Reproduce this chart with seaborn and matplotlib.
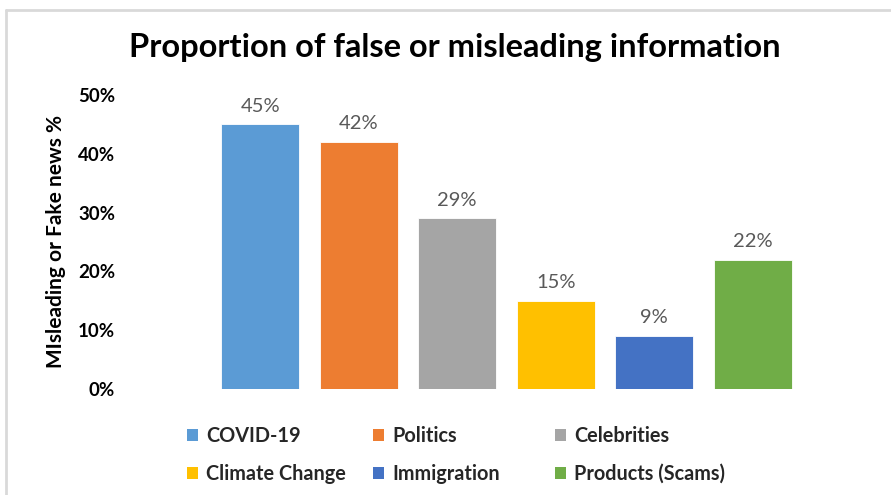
import matplotlib
matplotlib.use("Agg")
import matplotlib.pyplot as plt
from matplotlib.patches import Patch
from matplotlib.lines import Line2D
from matplotlib.ticker import PercentFormatter
import seaborn as sns
import pandas as pd

categories = ["COVID-19", "Politics", "Celebrities", "Climate Change", "Immigration", "Products (Scams)"]
values = [45, 42, 29, 15, 9, 22]
colors = ["#5b9bd5", "#ed7d31", "#a5a5a5", "#ffc000", "#4472c4", "#70ad47"]
y_ticks = [0, 10, 20, 30, 40, 50]

title = "Proportion of false or misleading information"
y_label = "MIsleading or Fake news %"

sns.set_theme(style="white")
plt.rcParams["font.family"] = ["Lato", "DejaVu Sans"]

df = pd.DataFrame({"category": categories, "value": values})

W, H = 891, 495
fig = plt.figure(figsize=(W / 100, H / 100), dpi=100)
ax = fig.add_axes([211 / W, 1 - 389 / H, (802 - 211) / W, (389 - 95) / H])

sns.barplot(data=df, x="category", y="value", hue="category", order=categories,
            hue_order=categories, palette=colors, width=0.79, legend=False,
            edgecolor="white", linewidth=0.6, saturation=1, ax=ax)

ax.set_ylim(0, 50)
ax.set_xlim(-0.5, len(categories) - 0.5)
ax.set_yticks(y_ticks)
ax.yaxis.set_major_formatter(PercentFormatter(decimals=0))
ax.set_xticks([])
ax.set_xlabel("")
ax.set_ylabel(y_label, fontsize=15, fontweight="bold", color="black")
ax.yaxis.set_label_coords((66 - 211) / (802 - 211), 0.5)
ax.tick_params(axis="y", length=0, pad=69, labelsize=13.5, labelcolor="black")
for lbl in ax.get_yticklabels():
    lbl.set_fontweight("bold")
for s in ax.spines.values():
    s.set_visible(False)

for i, v in enumerate(values):
    ax.annotate(f"{v}%", (i, v), xytext=(0, 7), textcoords="offset points",
                ha="center", va="bottom", fontsize=14.5, color="#595959")

fig.text(455 / W, 1 - 48 / H, title, ha="center", va="center",
         fontsize=23.5, fontweight="bold", color="black")

# legend: three columns of two entries each
col_x = [187, 373, 555]
for c in range(3):
    idx = [c, c + 3]
    handles = [Patch(facecolor=colors[i], edgecolor="none") for i in idx]
    labels = [categories[i] for i in idx]
    fig.legend(handles, labels, loc="upper left",
               bbox_to_anchor=(col_x[c] / W, 1 - 426 / H), frameon=False,
               prop={"weight": "bold", "size": 14.3}, handlelength=0.56,
               handleheight=0.56, handletextpad=0.4, labelspacing=0.9,
               borderpad=0, borderaxespad=0)

# chart frame
frame_kw = dict(color="#d9d9d9", linewidth=2, transform=fig.transFigure)
fig.add_artist(Line2D([6 / W, 1.0], [1 - 10 / H, 1 - 10 / H], **frame_kw))
fig.add_artist(Line2D([6 / W, 6 / W], [0, 1 - 10 / H], **frame_kw))

fig.savefig("out.png", dpi=100)
